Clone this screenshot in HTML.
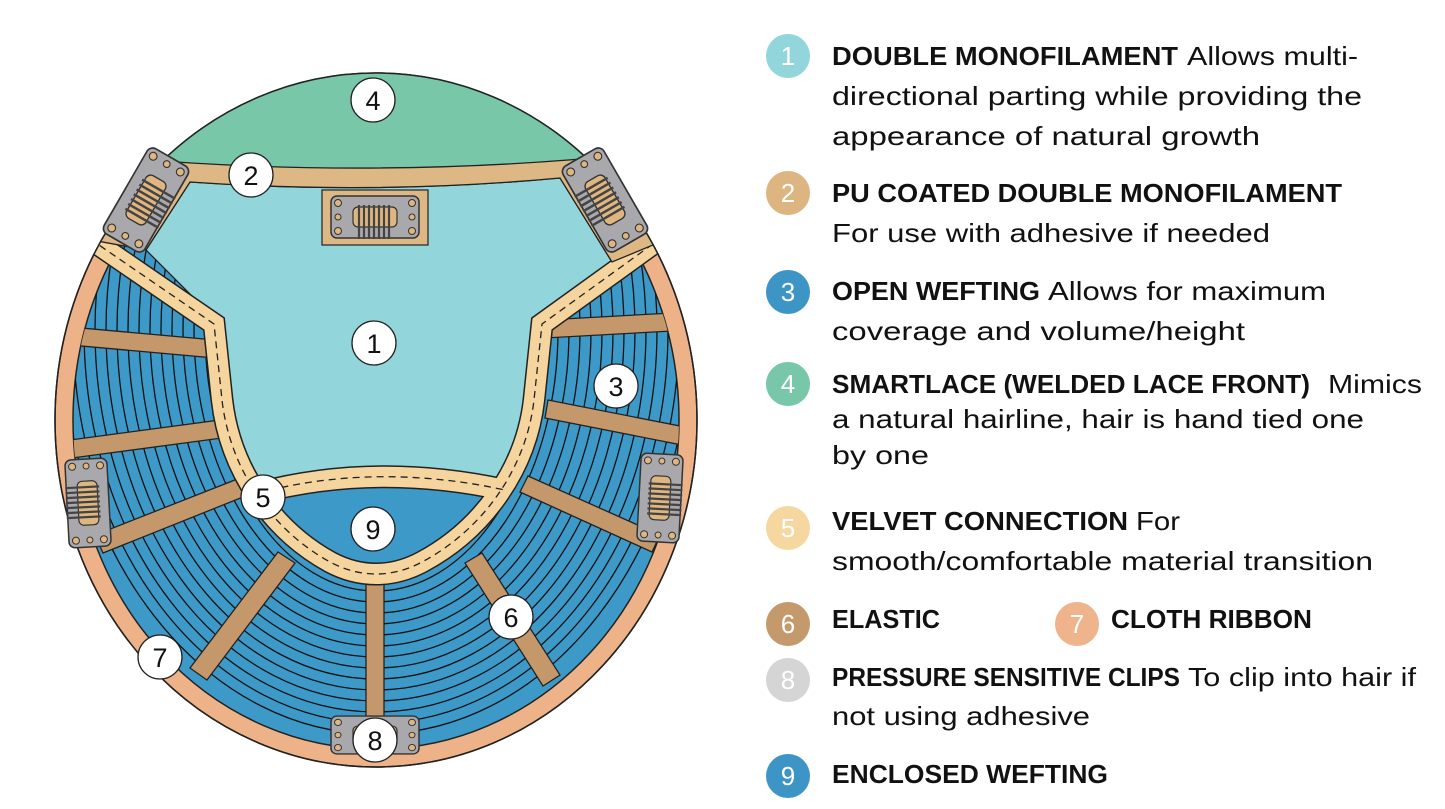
<!DOCTYPE html>
<html><head><meta charset="utf-8"><style>
html,body{margin:0;padding:0;background:#fff;}
svg{display:block;}
.b{font-family:"Liberation Sans",sans-serif;font-weight:bold;font-size:26px;fill:#111;}
.r{font-family:"Liberation Sans",sans-serif;font-size:26px;fill:#111;}
.n{font-family:"Liberation Sans",sans-serif;font-size:26px;fill:#fff;text-anchor:middle;}
.m{font-family:"Liberation Sans",sans-serif;font-size:27px;fill:#111;text-anchor:middle;}
</style></head><body>
<svg width="1445" height="809" viewBox="0 0 1445 809" xmlns="http://www.w3.org/2000/svg">
<defs>
<clipPath id="outer"><ellipse cx="376" cy="420" rx="321" ry="347"/></clipPath>
<clipPath id="inner"><ellipse cx="376" cy="420" rx="303" ry="329"/></clipPath>
<g id="clip">
<rect x="-44" y="-21" width="88" height="42" rx="6" fill="#a9a9ad" stroke="#333" stroke-width="1.5"/>
<rect x="-22" y="-10" width="44" height="20" rx="5" fill="#dfb680" stroke="#333" stroke-width="1.2"/>
<g stroke="#444" stroke-width="2.2" fill="none">
<line x1="-16" y1="-12" x2="-16" y2="22"/><line x1="-11" y1="-12" x2="-11" y2="22"/><line x1="-6" y1="-12" x2="-6" y2="22"/><line x1="-1" y1="-12" x2="-1" y2="22"/><line x1="4" y1="-12" x2="4" y2="22"/><line x1="9" y1="-12" x2="9" y2="22"/><line x1="14" y1="-12" x2="14" y2="22"/>
</g>
<g fill="#dfb680" stroke="#333" stroke-width="1"><circle cx="-37" cy="-14" r="3.5"/><circle cx="-37" cy="0" r="3"/><circle cx="-37" cy="14" r="3.5"/><circle cx="37" cy="-14" r="3.5"/><circle cx="37" cy="0" r="3"/><circle cx="37" cy="14" r="3.5"/></g>
</g>
</defs>

<ellipse cx="376" cy="420" rx="321" ry="347" fill="#edb287" stroke="#222" stroke-width="1.5"/>
<ellipse cx="376" cy="420" rx="303" ry="329" fill="#3d9ac8" stroke="#222" stroke-width="1.5"/>
<g clip-path="url(#inner)" fill="none" stroke="#111" stroke-width="1.3">
<ellipse cx="376" cy="330" rx="160" ry="250"/><ellipse cx="376" cy="330" rx="171" ry="261"/><ellipse cx="376" cy="330" rx="182" ry="272"/><ellipse cx="376" cy="330" rx="193" ry="283"/><ellipse cx="376" cy="330" rx="204" ry="294"/><ellipse cx="376" cy="330" rx="215" ry="305"/><ellipse cx="376" cy="330" rx="226" ry="316"/><ellipse cx="376" cy="330" rx="237" ry="327"/><ellipse cx="376" cy="330" rx="248" ry="338"/><ellipse cx="376" cy="330" rx="259" ry="349"/><ellipse cx="376" cy="330" rx="270" ry="360"/><ellipse cx="376" cy="330" rx="281" ry="371"/><ellipse cx="376" cy="330" rx="292" ry="382"/><ellipse cx="376" cy="330" rx="303" ry="393"/><ellipse cx="376" cy="330" rx="314" ry="404"/>
</g>
<g clip-path="url(#inner)" fill="#c4986a" stroke="#222" stroke-width="1.3">
<polygon points="70,327 215,340 215,358 70,345"/>
<polygon points="70,440 220,420 222,438 72,458"/>
<polygon points="95,535 240,478 248,495 103,553"/>
<polygon points="190,668 278,552 295,563 207,680"/>
<polygon points="366,580 384,580 384,730 366,730"/>
<polygon points="465,563 482,553 560,675 543,686"/>
<polygon points="520,492 528,476 660,535 652,552"/>
<polygon points="545,418 548,400 690,428 687,446"/>
<polygon points="545,338 545,320 690,312 690,330"/>
</g>
<path d="M190,182 Q376,195 560,178 L612,262 L538,322 L530,400 C524,448 510,478 495,490 Q376,466 258,493 C240,468 230,440 226,400 L218,322 L146,250 Z" fill="#92d5da" stroke="#222" stroke-width="1.3"/>
<path d="M258,492 Q376,464 505,490 C480,535 440,566 376,568 C312,566 276,532 258,492Z" fill="#3c99c8"/>
<g clip-path="url(#outer)" fill="none">
<path d="M80,232 L214,324 L222,400 C230,470 272,530 330,562 C360,578 392,578 422,562 C482,530 526,470 534,400 L542,324 L675,228" stroke="#222" stroke-width="23"/>
<path d="M258,493 Q376,462 505,490" stroke="#222" stroke-width="23"/>
<path d="M80,232 L214,324 L222,400 C230,470 272,530 330,562 C360,578 392,578 422,562 C482,530 526,470 534,400 L542,324 L675,228" stroke="#f5d49d" stroke-width="20"/>
<path d="M258,493 Q376,462 505,490" stroke="#f5d49d" stroke-width="20"/>
<path d="M80,232 L214,324 L222,400 C230,470 272,530 330,562 C360,578 392,578 422,562 C482,530 526,470 534,400 L542,324 L675,228" stroke="#222" stroke-width="1.3" stroke-dasharray="7 5"/>
<path d="M258,493 Q376,462 505,490" stroke="#222" stroke-width="1.3" stroke-dasharray="7 5"/>
</g>
<g clip-path="url(#outer)">
<path d="M130,148 L620,148 L680,232 L665,240 L612,262 L560,178 Q376,195 190,182 L146,250 L92,240 L70,230 Z" fill="#ddb885" stroke="#222" stroke-width="1.3"/>
<path d="M60,152 Q376,186 690,148 L690,40 L60,40 Z" fill="#78c7a8" stroke="#222" stroke-width="1.3"/>
</g>
<ellipse cx="376" cy="420" rx="321" ry="347" fill="none" stroke="#222" stroke-width="1.5"/>
<rect x="322" y="190" width="106" height="55" fill="#ddb885" stroke="#222" stroke-width="1.2"/>
<use href="#clip" transform="translate(375,217)"/>
<use href="#clip" transform="translate(146,200) rotate(-60) scale(1.12)"/>
<use href="#clip" transform="translate(605,200) rotate(60) scale(1.12)"/>
<use href="#clip" transform="translate(88,503) rotate(87)"/>
<use href="#clip" transform="translate(660,498) rotate(-87)"/>
<use href="#clip" transform="translate(375,735) scale(1,0.9)"/>
<g fill="#fff" stroke="#222" stroke-width="1.3">
<circle cx="373" cy="100" r="22"/><circle cx="251" cy="175" r="22"/><circle cx="374" cy="343" r="22"/><circle cx="616" cy="386" r="22"/><circle cx="263" cy="497" r="22"/><circle cx="373" cy="529" r="22"/><circle cx="511" cy="617" r="22"/><circle cx="160" cy="657" r="22"/><circle cx="375" cy="740" r="22"/>
</g>
<g class="m"><text x="373" y="110">4</text><text x="251" y="185">2</text><text x="374" y="353">1</text><text x="616" y="396">3</text><text x="263" y="507">5</text><text x="373" y="539">9</text><text x="511" y="627">6</text><text x="160" y="667">7</text><text x="375" y="750">8</text></g>

<circle cx="788" cy="56" r="22" fill="#92d5da"/><text class="n" x="788" y="65">1</text>
<circle cx="788" cy="193" r="22" fill="#ddb580"/><text class="n" x="788" y="202">2</text>
<circle cx="788" cy="292" r="22" fill="#3d95c6"/><text class="n" x="788" y="301">3</text>
<circle cx="788" cy="384" r="22" fill="#78c7a8"/><text class="n" x="788" y="393">4</text>
<circle cx="788" cy="528" r="22" fill="#f6d7a0"/><text class="n" x="788" y="537">5</text>
<circle cx="788" cy="624" r="22" fill="#c49a6c"/><text class="n" x="788" y="633">6</text>
<circle cx="1077" cy="624" r="22" fill="#f0b48c"/><text class="n" x="1077" y="633">7</text>
<circle cx="788" cy="680" r="22" fill="#d5d5d5"/><text class="n" x="788" y="689">8</text>
<circle cx="788" cy="776" r="22" fill="#3d95c6"/><text class="n" x="788" y="785">9</text>

<text class="b" x="832" y="65" textLength="346" lengthAdjust="spacingAndGlyphs">DOUBLE MONOFILAMENT</text>
<text class="r" x="1187" y="65" textLength="171" lengthAdjust="spacingAndGlyphs">Allows multi-</text>
<text class="r" x="832" y="105" textLength="530" lengthAdjust="spacingAndGlyphs">directional parting while providing the</text>
<text class="r" x="832" y="145" textLength="428" lengthAdjust="spacingAndGlyphs">appearance of natural growth</text>

<text class="b" x="832" y="202" textLength="510" lengthAdjust="spacingAndGlyphs">PU COATED DOUBLE MONOFILAMENT</text>
<text class="r" x="832" y="242" textLength="438" lengthAdjust="spacingAndGlyphs">For use with adhesive if needed</text>

<text class="b" x="832" y="300" textLength="208" lengthAdjust="spacingAndGlyphs">OPEN WEFTING</text>
<text class="r" x="1048" y="300" textLength="278" lengthAdjust="spacingAndGlyphs">Allows for maximum</text>
<text class="r" x="832" y="340" textLength="413" lengthAdjust="spacingAndGlyphs">coverage and volume/height</text>

<text class="b" x="832" y="393" textLength="478" lengthAdjust="spacingAndGlyphs">SMARTLACE (WELDED LACE FRONT)</text>
<text class="r" x="1328" y="393" textLength="94" lengthAdjust="spacingAndGlyphs">Mimics</text>
<text class="r" x="832" y="428" textLength="532" lengthAdjust="spacingAndGlyphs">a natural hairline, hair is hand tied one</text>
<text class="r" x="832" y="464" textLength="97" lengthAdjust="spacingAndGlyphs">by one</text>

<text class="b" x="832" y="530" textLength="296" lengthAdjust="spacingAndGlyphs">VELVET CONNECTION</text>
<text class="r" x="1136" y="530" textLength="44" lengthAdjust="spacingAndGlyphs">For</text>
<text class="r" x="832" y="570" textLength="541" lengthAdjust="spacingAndGlyphs">smooth/comfortable material transition</text>

<text class="b" x="832" y="628" textLength="108" lengthAdjust="spacingAndGlyphs">ELASTIC</text>
<text class="b" x="1111" y="628" textLength="201" lengthAdjust="spacingAndGlyphs">CLOTH RIBBON</text>

<text class="b" x="832" y="686" textLength="348" lengthAdjust="spacingAndGlyphs">PRESSURE SENSITIVE CLIPS</text>
<text class="r" x="1188" y="686" textLength="228" lengthAdjust="spacingAndGlyphs">To clip into hair if</text>
<text class="r" x="832" y="725" textLength="258" lengthAdjust="spacingAndGlyphs">not using adhesive</text>

<text class="b" x="832" y="783" textLength="276" lengthAdjust="spacingAndGlyphs">ENCLOSED WEFTING</text>
</svg>
</body></html>
